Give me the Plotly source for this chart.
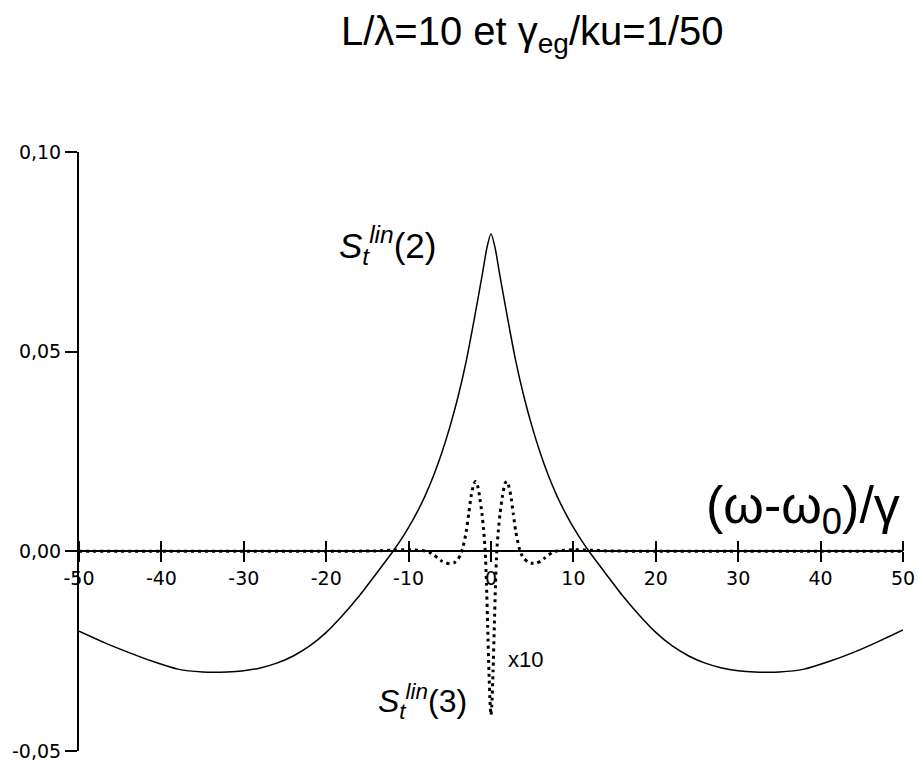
import plotly.graph_objects as go

# ---- data ----
s2_x = [-50, -47, -44, -41, -38, -35, -32, -30, -28, -26, -24, -22, -20, -18, -16, -14, -12, -11, -10, -9, -8, -7, -6,
        -5, -4, -3, -2, -1, -0.5, 0,
        0.5, 1, 2, 3, 4, 5, 6, 7, 8, 9, 10, 11, 12, 14, 16, 18, 20, 22, 24, 26, 28, 30, 32, 35, 38, 41, 44, 47, 50]
s2_y = [-0.0200, -0.0228, -0.0253, -0.0276, -0.0295, -0.0302, -0.0302, -0.0299, -0.0292, -0.0280, -0.0262, -0.0237,
        -0.0203, -0.0160, -0.0112, -0.0058, -0.0003, 0.0027, 0.0060, 0.0097, 0.0139, 0.0188, 0.0245, 0.0311, 0.0387,
        0.0477, 0.0585, 0.0700, 0.0760, 0.0795,
        0.0760, 0.0700, 0.0585, 0.0477, 0.0387, 0.0311, 0.0245, 0.0188, 0.0139, 0.0097, 0.0060, 0.0027, -0.0003,
        -0.0058, -0.0112, -0.0160, -0.0203, -0.0237, -0.0262, -0.0280, -0.0292, -0.0299, -0.0302, -0.0302, -0.0295,
        -0.0276, -0.0253, -0.0226, -0.0197]

s3_x = [-50, -40, -30, -20, -14, -12, -10, -9, -8, -7.5, -7, -6.5, -6, -5.5, -5, -4.5, -4, -3.7, -3.4, -3, -2.7, -2.4,
        -2.1, -1.9, -1.7, -1.4, -1.1, -0.9, -0.7, -0.55, -0.4, -0.25, -0.1, 0,
        0.1, 0.25, 0.4, 0.55, 0.7, 0.9, 1.1, 1.4, 1.7, 1.9, 2.1, 2.4, 2.7, 3, 3.4, 3.7, 4, 4.5, 5, 5.5, 6, 6.5, 7,
        7.5, 8, 9, 10, 12, 14, 20, 30, 40, 50]
s3_y = [0, 0, 0, 0, 0.0001, 0.0003, 0.0004, 0.0003, 0.0001, -0.0002, -0.0008, -0.0016, -0.0024, -0.0029, -0.0031,
        -0.0029, -0.0020, -0.0008, 0.0010, 0.0050, 0.0095, 0.0140, 0.0168, 0.0175, 0.0170, 0.0140, 0.0095, 0.0055,
        0.0000, -0.0080, -0.0190, -0.0300, -0.0385, -0.0410,
        -0.0385, -0.0300, -0.0190, -0.0080, 0.0000, 0.0055, 0.0095, 0.0140, 0.0170, 0.0175, 0.0168, 0.0140, 0.0095,
        0.0050, 0.0010, -0.0008, -0.0018, -0.0027, -0.0030, -0.0030, -0.0025, -0.0017, -0.0009, -0.0002, 0.0001,
        0.0003, 0.0004, 0.0003, 0.0001, 0, 0, 0, 0]

x_ticks = [-50, -40, -30, -20, -10, 0, 10, 20, 30, 40, 50]
x_tick_text = ["-50", "-40", "-30", "-20", "-10", "0", "10", "20", "30", "40", "50"]
y_ticks = [-0.05, 0.0, 0.05, 0.10]
y_tick_text = ["-0,05", "0,00", "0,05", "0,10"]

TICKFONT = "DejaVu Sans"
TEXTFONT = "Liberation Sans"

fig = go.Figure()
fig.add_trace(go.Scatter(x=s2_x, y=s2_y, mode="lines", line=dict(color="black", width=1.5, shape="spline", smoothing=0.6),
                         showlegend=False, hoverinfo="skip"))
fig.add_trace(go.Scatter(x=s3_x, y=s3_y, mode="lines", line=dict(color="black", width=3, dash="3px,4px", shape="spline", smoothing=0.5),
                         showlegend=False, hoverinfo="skip"))
# invisible trace carrying the top-side tick axis
fig.add_trace(go.Scatter(x=[-50, 50], y=[0, 0], xaxis="x2", mode="lines", line=dict(width=0), showlegend=False, hoverinfo="skip"))

fig.update_layout(
    width=918, height=762,
    margin=dict(l=79, r=15, t=152, b=11, autoexpand=False),
    paper_bgcolor="white", plot_bgcolor="white",
    font=dict(family=TEXTFONT, color="black"),
    xaxis=dict(range=[-50, 50], anchor="free", position=1/3, showgrid=False, zeroline=False, automargin=False,
               showline=True, linecolor="black", linewidth=2,
               tickvals=x_ticks, ticktext=x_tick_text, ticks="outside", ticklen=10, tickwidth=2, tickcolor="black",
               tickfont=dict(size=19, family=TICKFONT, color="black")),
    xaxis2=dict(range=[-50, 50], overlaying="x", anchor="free", position=1/3, side="top", showgrid=False,
                zeroline=False, showline=False, tickvals=x_ticks, ticks="outside", ticklen=10, tickwidth=2,
                tickcolor="black", showticklabels=False, automargin=False),
    yaxis=dict(range=[-0.05, 0.10], showgrid=False, zeroline=False, showline=True, linecolor="black", linewidth=2,
               automargin=False,
               tickvals=y_ticks, ticktext=y_tick_text, ticks="outside", ticklen=12, tickwidth=2, tickcolor="black",
               tickfont=dict(size=19, family=TICKFONT, color="black")),
    annotations=[
        dict(text="L/λ=10 et γ<sub>eg</sub>/ku=1/50", xref="paper", yref="paper", x=(532 - 79) / 824, y=(762 - 34 - 11) / 599,
             showarrow=False, font=dict(size=40, family=TEXTFONT), xanchor="center", yanchor="middle"),
        dict(text="<i>S</i><sub><i>t</i></sub><sup><i>lin</i></sup>(2)", x=-12.6, y=0.0765, showarrow=False,
             font=dict(size=35, family=TEXTFONT), xanchor="center", yanchor="middle"),
        dict(text="<i>S</i><sub><i>t</i></sub><sup><i>lin</i></sup>(3)", x=-8.3, y=-0.0375, showarrow=False,
             font=dict(size=32, family=TEXTFONT), xanchor="center", yanchor="middle"),
        dict(text="x10", x=4.2, y=-0.027, showarrow=False, font=dict(size=22, family=TEXTFONT), xanchor="center", yanchor="middle"),
        dict(text="(ω-ω<sub>0</sub>)/γ", x=37.9, y=0.0105, showarrow=False, font=dict(size=52, family=TEXTFONT),
             xanchor="center", yanchor="middle"),
    ],
)

fig.write_html("out.html", config={"displayModeBar": False}, post_script="document.body.style.margin='0px';")
